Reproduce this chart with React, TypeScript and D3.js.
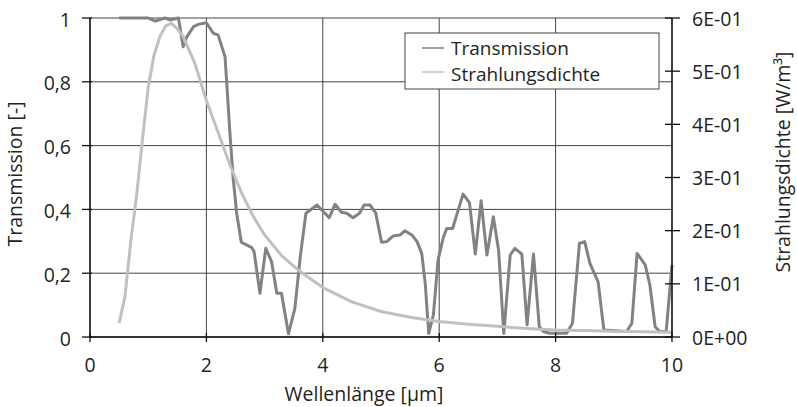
import React from "react";
import * as d3 from "d3";

const transX = [0.5, 0.6, 0.7, 0.8, 0.9, 1.0, 1.12, 1.29, 1.37, 1.52, 1.6, 1.66, 1.78, 1.86, 2.0, 2.12, 2.2, 2.32, 2.41, 2.46, 2.52, 2.6, 2.78, 2.82, 2.92, 3.02, 3.12, 3.21, 3.29, 3.41, 3.52, 3.61, 3.71, 3.9, 4.11, 4.21, 4.32, 4.41, 4.52, 4.63, 4.71, 4.81, 4.91, 5.01, 5.1, 5.21, 5.33, 5.41, 5.53, 5.62, 5.7, 5.76, 5.82, 5.9, 5.98, 6.07, 6.13, 6.23, 6.3, 6.41, 6.52, 6.62, 6.72, 6.82, 6.93, 7.02, 7.11, 7.22, 7.3, 7.42, 7.51, 7.62, 7.72, 7.79, 7.9, 8.19, 8.29, 8.41, 8.5, 8.59, 8.73, 8.83, 9.22, 9.31, 9.4, 9.54, 9.62, 9.71, 9.79, 9.9, 10.0];
const transY = [1, 1, 1, 1, 1, 1, 0.99, 1.0, 0.994, 1.0, 0.91, 0.94, 0.973, 0.98, 0.985, 0.952, 0.947, 0.879, 0.624, 0.498, 0.388, 0.297, 0.28, 0.267, 0.137, 0.278, 0.236, 0.137, 0.137, 0.01, 0.09, 0.247, 0.388, 0.414, 0.374, 0.416, 0.391, 0.388, 0.374, 0.388, 0.414, 0.414, 0.388, 0.297, 0.299, 0.317, 0.32, 0.333, 0.32, 0.299, 0.262, 0.168, 0.011, 0.069, 0.241, 0.312, 0.34, 0.34, 0.382, 0.448, 0.421, 0.26, 0.427, 0.257, 0.377, 0.273, 0.011, 0.257, 0.278, 0.26, 0.038, 0.26, 0.032, 0.017, 0.012, 0.012, 0.043, 0.294, 0.299, 0.231, 0.173, 0.022, 0.017, 0.043, 0.262, 0.226, 0.163, 0.032, 0.017, 0.017, 0.226];

const radX = [0.5, 0.6, 0.7, 0.8, 0.9, 1.0, 1.1, 1.2, 1.3, 1.4, 1.5, 1.6, 1.8, 2.0, 2.2, 2.4, 2.6, 2.8, 3.0, 3.3, 3.6, 4.0, 4.5, 5.0, 5.5, 6.0, 6.5, 7.0, 7.5, 8.0, 8.5, 9.0, 9.5, 10.0];
const radY = [0.026, 0.075, 0.18, 0.265, 0.37, 0.47, 0.53, 0.565, 0.585, 0.59, 0.58, 0.565, 0.515, 0.445, 0.385, 0.325, 0.272, 0.228, 0.192, 0.152, 0.124, 0.093, 0.066, 0.048, 0.037, 0.029, 0.024, 0.02, 0.016, 0.013, 0.012, 0.011, 0.01, 0.009];

const xTicks = [0, 2, 4, 6, 8, 10];
const yLeftTicks = [0, 0.2, 0.4, 0.6, 0.8, 1];
const yLeftLabels = ["0", "0,2", "0,4", "0,6", "0,8", "1"];
const yRightTicks = [0, 0.1, 0.2, 0.3, 0.4, 0.5, 0.6];
const yRightLabels = ["0E+00", "1E-01", "2E-01", "3E-01", "4E-01", "5E-01", "6E-01"];
const seriesNames = ["Transmission", "Strahlungsdichte"];

const FONT = "'Open Sans', sans-serif";
const TEXT = "#231f20";
const FS = 19.5;
const LFS = 19;

export default function App() {
  const W = 797, H = 407;
  const x = d3.scaleLinear().domain([0, 10]).range([90, 672]);
  const yL = d3.scaleLinear().domain([0, 1]).range([337, 18]);
  const yR = d3.scaleLinear().domain([0, 0.6]).range([337, 18]);

  const lineT = d3.line<number>().x((_, i) => x(transX[i])).y((d) => yL(d));
  const lineR = d3.line<number>().x((_, i) => x(radX[i])).y((d) => yR(d));

  return (
    <svg width={W} height={H} style={{ position: "absolute", left: 0, top: 0, background: "#fff" }} fontFamily={FONT}>
      {/* grid */}
      {yLeftTicks.map((t) => (
        <line key={"gy" + t} x1={90} x2={672} y1={yL(t)} y2={yL(t)} stroke="#444" strokeWidth={1} />
      ))}
      {xTicks.slice(1, -1).map((t) => (
        <line key={"gx" + t} x1={x(t)} x2={x(t)} y1={18} y2={337} stroke="#444" strokeWidth={1} />
      ))}
      {/* series */}
      <path d={lineT(transY) || ""} fill="none" stroke="#828282" strokeWidth={3} strokeLinejoin="round" />
      <path d={lineR(radY) || ""} fill="none" stroke="#c0c0c0" strokeWidth={3} strokeLinejoin="round" />
      {/* axes */}
      <line x1={90} x2={90} y1={18} y2={337} stroke="#111" strokeWidth={1.6} />
      <line x1={672} x2={672} y1={18} y2={337} stroke="#111" strokeWidth={1.6} />
      <line x1={90} x2={672} y1={337} y2={337} stroke="#111" strokeWidth={1.6} />
      {yLeftTicks.map((t, i) => (
        <g key={"yl" + t}>
          <line x1={82} x2={92} y1={yL(t)} y2={yL(t)} stroke="#111" strokeWidth={1.3} />
          <text x={71} y={yL(t) + 8.5} textAnchor="end" fontSize={FS} fill={TEXT}>{yLeftLabels[i]}</text>
        </g>
      ))}
      {yRightTicks.map((t, i) => (
        <g key={"yr" + t}>
          <line x1={665} x2={680} y1={yR(t)} y2={yR(t)} stroke="#111" strokeWidth={1.3} />
          <text x={692} y={yR(t) + 7.5} textAnchor="start" fontSize={FS} fill={TEXT}>{yRightLabels[i]}</text>
        </g>
      ))}
      {xTicks.map((t) => (
        <g key={"xt" + t}>
          <line x1={x(t)} x2={x(t)} y1={333} y2={342} stroke="#111" strokeWidth={1.3} />
          <text x={x(t)} y={372} textAnchor="middle" fontSize={FS} fill={TEXT}>{t}</text>
        </g>
      ))}
      {/* axis titles */}
      <text x={364} y={401} textAnchor="middle" fontSize={FS} fill={TEXT}>Wellenlänge [µm]</text>
      <text transform={`translate(22,174) rotate(-90)`} textAnchor="middle" fontSize={FS} fill={TEXT}>Transmission [-]</text>
      <text transform={`translate(790,162) rotate(-90)`} textAnchor="middle" fontSize={FS} fill={TEXT}>Strahlungsdichte [W/m³]</text>
      {/* legend */}
      <rect x={405} y={33} width={254} height={56} fill="#fff" stroke="#444" strokeWidth={1} />
      <line x1={422} x2={444} y1={48} y2={48} stroke="#828282" strokeWidth={1.5} />
      <line x1={422} x2={444} y1={72} y2={72} stroke="#c0c0c0" strokeWidth={1.5} />
      <text x={451} y={55} fontSize={LFS} fill={TEXT}>{seriesNames[0]}</text>
      <text x={451} y={81} fontSize={LFS} fill={TEXT}>{seriesNames[1]}</text>
    </svg>
  );
}
